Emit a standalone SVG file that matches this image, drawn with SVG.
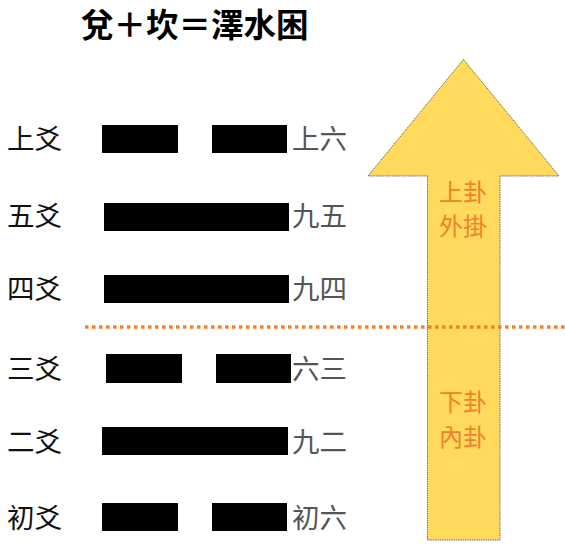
<svg xmlns="http://www.w3.org/2000/svg" width="565" height="548" viewBox="0 0 565 548">
<style>
.t{font-family:"Noto Sans CJK TC","Noto Sans CJK JP",sans-serif;}
.title{font-size:32.5px;font-weight:bold;fill:#000;}
.lab{font-size:27.5px;fill:#111;}
.val{font-size:27.5px;fill:#555;}
.bar{fill:#000;}
.ora{font-size:24px;fill:#F2802A;text-anchor:middle;}
</style>
<rect width="565" height="548" fill="#fff"/>
<text class="t title" x="81" y="37">兌＋坎＝澤水困</text>
<g id="arrow">
<polygon points="463.5,59.5 559,176 500,176 500,540 427.5,540 427.5,176 368,176" fill="#FFDA5C" stroke="#5a5030" stroke-width="0.8" stroke-dasharray="1.5,0.8"/>
<text class="t ora" x="463" y="201">上卦</text>
<text class="t ora" x="463" y="235">外掛</text>
<text class="t ora" x="463" y="411">下卦</text>
<text class="t ora" x="463" y="446">內卦</text>
</g>
<g id="connectors">
<line x1="85" y1="327" x2="565" y2="327" stroke="#F2802A" stroke-width="3.5" stroke-dasharray="3.5,3.5"/>
</g>
<g id="line6">
<text class="t lab" x="7" y="149">上爻</text>
<rect class="bar" x="102" y="125" width="76" height="28"/>
<rect class="bar" x="212" y="125" width="75" height="28"/>
<text class="t val" x="292" y="149">上六</text>
</g>
<g id="line5">
<text class="t lab" x="7" y="226">五爻</text>
<rect class="bar" x="104" y="203" width="185" height="28"/>
<text class="t val" x="292" y="226">九五</text>
</g>
<g id="line4">
<text class="t lab" x="7" y="299">四爻</text>
<rect class="bar" x="104" y="275" width="185" height="28"/>
<text class="t val" x="292" y="299">九四</text>
</g>
<g id="line3">
<text class="t lab" x="7" y="379">三爻</text>
<rect class="bar" x="106" y="354" width="76" height="29"/>
<rect class="bar" x="216" y="354" width="75" height="29"/>
<text class="t val" x="292" y="379">六三</text>
</g>
<g id="line2">
<text class="t lab" x="7" y="452">二爻</text>
<rect class="bar" x="102" y="427" width="186" height="28"/>
<text class="t val" x="292" y="452">九二</text>
</g>
<g id="line1">
<text class="t lab" x="7" y="528">初爻</text>
<rect class="bar" x="102" y="503" width="76" height="28"/>
<rect class="bar" x="212" y="503" width="75" height="28"/>
<text class="t val" x="292" y="528">初六</text>
</g>
</svg>
